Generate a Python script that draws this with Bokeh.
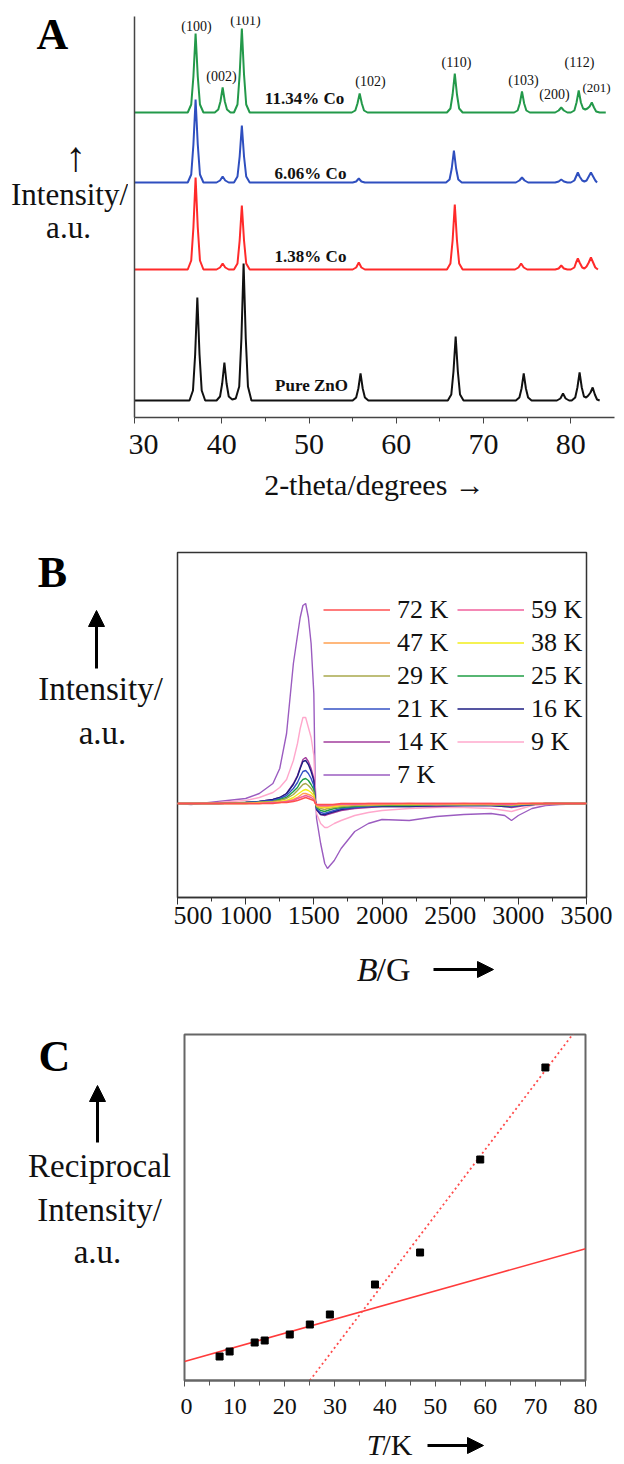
from bokeh.plotting import figure
from bokeh.layouts import row
from bokeh.models import Range1d, Label, Arrow, NormalHead, Legend, LegendItem, FixedTicker
from bokeh.embed import file_html
from bokeh.resources import INLINE
import numpy as np

SERIF = "Liberation Serif"
W = 624
BASE_SHIFT = 0.37  # measured offset of the rendered alphabetic baseline, in em

# ---------------- Panel A : XRD patterns ----------------
a_ticks = [30, 40, 50, 60, 70, 80]
a_minor = [35, 45, 55, 65, 75]

pure_x = [30, 36.3, 36.7, 36.95, 37.2, 37.45, 37.7, 38.1, 39.4, 39.8, 40.05, 40.3, 40.55, 40.8, 41.2,
          41.6, 42.0, 42.25, 42.5, 42.75, 43.0, 43.4, 55.0, 55.4, 55.65, 55.9, 56.15, 56.4, 56.8,
          65.9, 66.3, 66.55, 66.8, 67.05, 67.3, 67.7, 73.7, 74.1, 74.35, 74.6, 74.85, 75.1, 75.5,
          78.4, 78.8, 79.1, 79.4, 79.8, 80.1, 80.5, 80.75, 81.0, 81.25, 81.5, 81.75, 82.0, 82.25,
          82.5, 82.75, 83.0, 83.3]
pure_y = [0, 0, 10, 46, 103, 46, 10, 0, 0, 4, 17, 38, 17, 4, 1,
          2, 14, 62, 137, 62, 14, 0, 0, 3, 12, 27, 12, 3, 0,
          0, 6, 29, 64, 29, 6, 0, 0, 3, 12, 27, 12, 3, 0,
          0, 2, 7, 2, 0, 0, 3, 13, 28, 13, 4, 3, 5, 8,
          13, 6, 1, 0]

co138_x = [30, 36.1, 36.5, 36.75, 37.0, 37.25, 37.5, 37.9, 39.4, 39.8, 40.1, 40.4, 40.8,
           41.4, 41.8, 42.05, 42.3, 42.55, 42.8, 43.2, 55.0, 55.4, 55.7, 56.0, 56.4,
           65.8, 66.2, 66.45, 66.7, 66.95, 67.2, 67.6, 73.6, 74.0, 74.3, 74.6, 75.0,
           78.2, 78.6, 78.9, 79.2, 79.6, 80.0, 80.4, 80.6, 80.8, 81.0, 81.3, 81.55,
           81.8, 82.05, 82.3, 82.55, 82.8, 83.1]
co138_y = [0, 0, 9, 42, 92, 42, 9, 0, 0, 2, 6, 2, 0,
           0, 6, 29, 64, 29, 6, 0, 0, 2, 7, 2, 0,
           0, 6, 29, 65, 29, 6, 0, 0, 2, 6, 2, 0,
           0, 1, 4, 1, 0, 0, 2, 7, 11, 7, 2, 1,
           3, 7, 12, 7, 2, 0]

co606_x = [30, 36.1, 36.5, 36.75, 37.0, 37.25, 37.5, 37.9, 39.4, 39.8, 40.1, 40.4, 40.8,
           41.4, 41.8, 42.05, 42.3, 42.55, 42.8, 43.2, 55.0, 55.4, 55.7, 56.0, 56.4,
           65.7, 66.1, 66.35, 66.6, 66.85, 67.1, 67.5, 73.7, 74.1, 74.4, 74.7, 75.1,
           78.2, 78.6, 78.9, 79.2, 79.6, 80.0, 80.4, 80.6, 80.8, 81.0, 81.3, 81.55,
           81.8, 82.05, 82.3, 82.55, 82.8, 83.0]
co606_y = [0, 0, 8, 38, 83, 38, 8, 0, 0, 2, 6, 2, 0,
           0, 6, 26, 57, 26, 6, 0, 0, 1, 4, 1, 0,
           0, 3, 14, 32, 14, 3, 0, 0, 2, 5, 2, 0,
           0, 1, 3, 1, 0, 0, 2, 6, 10, 6, 2, 1,
           2, 6, 10, 6, 2, 0]

co1134_x = [30, 36.1, 36.5, 36.75, 37.0, 37.25, 37.5, 37.9, 39.2, 39.6, 39.85, 40.1, 40.35, 40.6, 41.0,
            41.4, 41.8, 42.05, 42.3, 42.55, 42.8, 43.2, 54.9, 55.3, 55.55, 55.8, 56.05, 56.3, 56.7,
            65.8, 66.2, 66.45, 66.7, 66.95, 67.2, 67.6, 73.5, 73.9, 74.15, 74.4, 74.65, 74.9, 75.3,
            78.2, 78.6, 78.9, 79.2, 79.6, 80.0, 80.4, 80.65, 80.9, 81.15, 81.4, 81.65,
            81.9, 82.15, 82.4, 82.65, 82.9, 83.3, 84.0]
co1134_y = [0, 0, 8, 36, 79, 36, 8, 0, 0, 3, 11, 25, 11, 3, 0,
            0, 8, 38, 84, 38, 8, 0, 0, 2, 9, 19, 9, 2, 0,
            0, 4, 18, 39, 18, 4, 0, 0, 2, 9, 21, 9, 2, 0,
            0, 2, 5, 2, 0, 0, 2, 10, 22, 10, 4, 3,
            4, 6, 10, 5, 1, 0, 0]

sample_names = ["Pure ZnO", "1.38% Co", "6.06% Co", "11.34% Co"]
hkl_labels = ["(100)", "(002)", "(101)", "(102)", "(110)", "(103)", "(200)", "(112)", "(201)"]

# ---------------- Panel B : EPR spectra ----------------
b_ticks = [500, 1000, 1500, 2000, 2500, 3000, 3500]
b_minor = [750, 1250, 1750, 2250, 2750, 3250]
field_G = [500, 600, 800, 1000, 1100, 1200, 1250, 1300, 1350, 1380, 1400, 1420, 1440, 1460, 1480,
           1500, 1510, 1520, 1550, 1580, 1600, 1650, 1700, 1800, 1900, 2000, 2200, 2400, 2600,
           2800, 2900, 2950, 3000, 3100, 3200, 3300, 3500]
epr_temps = ["72 K", "59 K", "47 K", "38 K", "29 K", "25 K", "21 K", "16 K", "14 K", "9 K", "7 K"]
epr_72 = [0, 0, 0, 0, 0, 0, 1, 1, 2, 3, 4, 5, 6, 5, 4, 3, 0, -1, -1, -1, -1, -1, 0, 0, 0, 0, 0, 0, 0, 0, 0, 0, 0, 0, 0, 0, 0]
epr_59 = [0, 0, 0, 0, 0, 1, 1, 2, 3, 5, 6, 7, 8, 7, 6, 4, 1, -1, -2, -2, -2, -1, -1, -1, 0, 0, 0, 0, 0, 0, -1, -1, 0, 0, 0, 0, 0]
epr_47 = [0, 0, 0, 0, 0, 1, 1, 2, 4, 6, 8, 10, 10, 9, 8, 6, 1, -2, -3, -3, -3, -2, -1, -1, -1, -1, 0, -1, 0, -1, -1, -1, 0, 0, 0, 0, 0]
epr_38 = [0, 0, 0, 0, 1, 1, 2, 3, 6, 9, 11, 13, 14, 13, 11, 8, 1, -2, -4, -4, -4, -3, -2, -1, -1, -1, -1, -1, -1, -1, -1, -1, -1, 0, 0, 0, 0]
epr_29 = [0, 0, 0, 0, 1, 2, 3, 5, 9, 13, 16, 19, 20, 18, 15, 11, 2, -3, -5, -6, -5, -4, -3, -2, -2, -1, -1, -1, -1, -1, -1, -2, -1, 0, 0, 0, 0]
epr_25 = [0, 0, 0, 1, 1, 2, 4, 6, 12, 16, 21, 24, 25, 23, 19, 14, 2, -4, -7, -8, -7, -5, -4, -3, -2, -2, -2, -1, -1, -1, -2, -2, -1, -1, 0, 0, 0]
epr_21 = [0, 0, 0, 1, 2, 3, 5, 8, 15, 21, 27, 32, 33, 30, 25, 18, 3, -5, -9, -10, -9, -7, -5, -4, -3, -2, -2, -2, -2, -2, -2, -3, -2, -1, 0, 0, 0]
epr_16 = [0, 0, 0, 1, 2, 4, 6, 10, 19, 27, 35, 42, 43, 39, 32, 23, 4, -6, -11, -11, -10, -8, -6, -4, -3, -3, -3, -2, -2, -2, -3, -3, -2, -1, 0, 0, 0]
epr_14 = [0, 0, 0, 1, 2, 4, 6, 10, 20, 28, 36, 44, 46, 42, 35, 25, 5, -6, -11, -12, -11, -9, -7, -5, -4, -3, -3, -3, -2, -2, -3, -4, -3, -1, 0, 0, 0]
epr_9 = [0, 0, 1, 3, 6, 11, 16, 24, 43, 60, 75, 86, 86, 76, 66, 48, 12, -10, -20, -24, -24, -20, -17, -12, -9, -7, -5, -4, -4, -5, -7, -8, -6, -2, -1, 0, 0]
epr_7 = [0, -1, 2, 5, 10, 20, 35, 70, 140, 168, 186, 198, 200, 186, 160, 110, 20, -15, -40, -60, -65, -57, -45, -28, -20, -16, -17, -13, -11, -10, -12, -17, -12, -5, -2, -1, 0]

# ---------------- Panel C : reciprocal intensity ----------------
c_ticks = [0, 10, 20, 30, 40, 50, 60, 70, 80]
c_minor = [5, 15, 25, 35, 45, 55, 65, 75]
temp_K = [7, 9, 14, 16, 21, 25, 29, 38, 47, 59, 72]
recip_I = [24, 29, 38, 40, 46, 56, 66, 96, 128, 221, 313]
low_fit_intercept = 19.0
low_fit_slope = 1.41
high_fit_T0 = 25.0
high_fit_slope = 6.6

TXT = "#111111"


def base_fig(**kw):
    p = figure(output_backend="svg", toolbar_location=None, **kw)
    p.grid.visible = False
    return p


def text_fig(width, height, x0, top_border, bottom_border, frame_top_page, frame_bottom_page):
    """Blank figure whose data coordinates are page pixels (used for free text)."""
    p = base_fig(width=width, height=height, x_range=Range1d(x0, x0 + width),
                 y_range=Range1d(frame_bottom_page, frame_top_page),
                 x_axis_location=None, y_axis_location=None,
                 min_border_left=0, min_border_right=0,
                 min_border_top=top_border, min_border_bottom=bottom_border)
    p.outline_line_color = None
    return p


def txt(p, x, y, text, size, style="normal", align="center", color=TXT):
    p.add_layout(Label(x=x, y=y, text=text, text_font=SERIF, text_font_size=f"{size}px",
                       text_font_style=style, text_align=align, text_baseline="alphabetic",
                       text_color=color))


def ptxt(p, px, py, text, size, **kw):
    """Text whose glyph baseline should land at page y = py (page-pixel figures)."""
    txt(p, px, py - BASE_SHIFT * size, text, size, **kw)


def arrow(p, x0, y0, x1, y1, lw=3, head=16):
    p.add_layout(Arrow(x_start=x0, y_start=y0, x_end=x1, y_end=y1, line_width=lw, line_color="black",
                       end=NormalHead(size=head, fill_color="black", line_color="black", line_width=1)))


# ======== panel A (page y 0..522) ========
HA = 522
A_L, A_T, A_B, A_R = 134, 16, 417, 614
A_side_w = 128
pa = base_fig(width=W - A_side_w, height=HA, x_range=Range1d(30, 85), y_range=Range1d(0, A_B - A_T),
              min_border_left=A_L - A_side_w, min_border_right=W - A_R,
              min_border_top=A_T, min_border_bottom=HA - A_B)
pa.outline_line_color = None
pa.yaxis.ticker = FixedTicker(ticks=[])
pa.yaxis.major_tick_out = 0
pa.yaxis.minor_tick_out = 0
pa.yaxis.axis_line_color = "#444444"
pa.yaxis.axis_line_width = 1.5
pa.xaxis.ticker = FixedTicker(ticks=a_ticks, minor_ticks=a_minor)
xa = pa.xaxis[0]
xa.axis_line_color = "#444444"
xa.axis_line_width = 1.5
xa.major_tick_line_color = "#444444"
xa.minor_tick_line_color = "#444444"
xa.major_tick_out = 6
xa.major_tick_in = 0
xa.minor_tick_out = 4
xa.minor_tick_in = 0
xa.major_label_text_font = SERIF
xa.major_label_text_font_size = "30px"
xa.major_label_text_color = TXT
xa.major_label_standoff = 11
xa.axis_label = "2-theta/degrees \u2192"
xa.axis_label_text_font = SERIF
xa.axis_label_text_font_size = "30px"
xa.axis_label_text_font_style = "normal"
xa.axis_label_text_color = TXT
xa.axis_label_standoff = 11

offsets = [17, 148, 235, 305]  # vertical stacking of the patterns (layout only)
series = [(pure_x, pure_y, "#111111"), (co138_x, co138_y, "#ff2a2a"),
          (co606_x, co606_y, "#2f4fbf"), (co1134_x, co1134_y, "#23994a")]
for (xs, ys, col), off in zip(series, offsets):
    pa.line(xs, np.array(ys) + off, line_color=col, line_width=2)


def a_txt(px, py, text, size, **kw):  # page pixel -> panel A data
    py = py - BASE_SHIFT * size
    txt(pa, 30 + (px - A_L) * 55 / (A_R - A_L), A_B - py, text, size, **kw)


for name, (px, py) in zip(sample_names, [(311, 391), (310, 262), (310, 179), (304, 104)]):
    a_txt(px, py, name, 17, style="bold")
hkl_pos = [(196, 31), (221, 81), (245, 25), (370, 86), (456, 67), (523, 85), (554, 99), (579, 67), (596, 92)]
for t, (px, py) in zip(hkl_labels, hkl_pos):
    a_txt(px, py, t, 14 if t != "(201)" else 13)

sa = text_fig(A_side_w, HA, 0, A_T, HA - A_B, A_T, A_B)
ptxt(sa, 52, 50, "A", 44, style="bold", color="black")
ptxt(sa, 75, 172, "\u2191", 42)
ptxt(sa, 69, 205, "Intensity/", 31)
ptxt(sa, 68, 238, "a.u.", 31)
rowA = row(sa, pa)

# ======== panel B (page y 522..950, caption 950..1000) ========
HB = 428
B_top = 522
B_L, B_T, B_B, B_R = 177, 552, 897, 586
B_side_w = 173
pb = base_fig(width=W - B_side_w, height=HB, x_range=Range1d(500, 3500), y_range=Range1d(-94, 251),
              y_axis_location=None,
              min_border_left=B_L - B_side_w, min_border_right=W - B_R,
              min_border_top=B_T - B_top, min_border_bottom=HB - (B_B - B_top))
pb.outline_line_color = "#333333"
pb.outline_line_width = 1.5
pb.xaxis.ticker = FixedTicker(ticks=b_ticks, minor_ticks=b_minor)
xb = pb.xaxis[0]
xb.axis_line_color = "#333333"
xb.axis_line_width = 1.5
xb.major_tick_out = 7
xb.major_tick_in = 0
xb.minor_tick_out = 4
xb.minor_tick_in = 0
xb.major_tick_line_color = "#333333"
xb.minor_tick_line_color = "#333333"
xb.major_label_text_font = SERIF
xb.major_label_text_font_size = "26px"
xb.major_label_text_color = TXT
xb.major_label_standoff = 2

epr_series = [epr_72, epr_59, epr_47, epr_38, epr_29, epr_25, epr_21, epr_16, epr_14, epr_9, epr_7]
epr_colors = ["#ff5050", "#f0609c", "#ffa050", "#f2ee1a", "#a8a84c", "#1f9e45",
              "#3552c4", "#1c1c82", "#a23c9c", "#ffa8cc", "#9b5cc0"]
renderers = {}
for lbl, ys, col in reversed(list(zip(epr_temps, epr_series, epr_colors))):
    renderers[lbl] = pb.line(field_G, ys, line_color=col, line_width=1.4)
items = [LegendItem(label=lbl, renderers=[renderers[lbl]]) for lbl in epr_temps]
leg = Legend(items=items, location=(146, 106), orientation="horizontal", ncols=2,
             glyph_width=67, glyph_height=33, label_height=33, label_width=60, label_standoff=7,
             spacing=0, padding=0, margin=0, border_line_color=None, background_fill_alpha=0,
             label_text_font=SERIF, label_text_font_size="26px", label_text_color=TXT)
pb.add_layout(leg)

sb = text_fig(B_side_w, HB, 0, B_T - B_top, HB - (B_B - B_top), B_T, B_B)
ptxt(sb, 52, 588, "B", 44, style="bold", color="black")
arrow(sb, 96, 668, 96, 610)
ptxt(sb, 100, 701, "Intensity/", 33)
ptxt(sb, 102, 745, "a.u.", 33)
rowB = row(sb, pb)

capB = text_fig(W, 50, 0, 0, 0, 950, 1000)
ptxt(capB, 377, 982, "B", 34, style="italic", align="right")
ptxt(capB, 376, 982, "/G", 34, align="left")
arrow(capB, 433, 969, 493, 969)

# ======== panel C (page y 1000..1428, caption 1428..1464) ========
HC = 428
C_top = 1000
C_L, C_T, C_B, C_R = 184, 1034, 1380, 585
C_side_w = 180
pc = base_fig(width=W - C_side_w, height=HC, x_range=Range1d(0, 80), y_range=Range1d(0, 346),
              y_axis_location=None,
              min_border_left=C_L - C_side_w, min_border_right=W - C_R,
              min_border_top=C_T - C_top, min_border_bottom=HC - (C_B - C_top))
pc.outline_line_color = "#666666"
pc.outline_line_width = 2
pc.xaxis.ticker = FixedTicker(ticks=c_ticks, minor_ticks=c_minor)
xc = pc.xaxis[0]
xc.axis_line_color = "#666666"
xc.axis_line_width = 2
xc.major_tick_out = 6
xc.major_tick_in = 0
xc.minor_tick_out = 5
xc.minor_tick_in = 0
xc.major_tick_line_color = "#555555"
xc.minor_tick_line_color = "#555555"
xc.major_label_text_font = SERIF
xc.major_label_text_font_size = "24px"
xc.major_label_text_color = TXT
xc.major_label_standoff = 12

fx = np.array([0, 80])
pc.line(fx, low_fit_intercept + low_fit_slope * fx, line_color="#ff3b3b", line_width=1.6)
hx = np.array([high_fit_T0, 80])
pc.line(hx, high_fit_slope * (hx - high_fit_T0), line_color="#ff4a4a", line_width=1.8, line_dash="2 3")
pc.scatter(temp_K, recip_I, marker="square", size=7, color="black")

sc = text_fig(C_side_w, HC, 0, C_T - C_top, HC - (C_B - C_top), C_T, C_B)
ptxt(sc, 54, 1072, "C", 44, style="bold", color="black")
arrow(sc, 97, 1142, 97, 1085)
ptxt(sc, 99, 1178, "Reciprocal", 33)
ptxt(sc, 99, 1222, "Intensity/", 33)
ptxt(sc, 97, 1264, "a.u.", 33)
rowC = row(sc, pc)

capC = text_fig(W, 36, 0, 0, 0, 1428, 1464)
ptxt(capC, 383, 1455, "T", 30, style="italic", align="right")
ptxt(capC, 382, 1455, "/K", 30, align="left")
arrow(capC, 427, 1445, 483, 1445)

open("out.html", "w").write(file_html([rowA, rowB, capB, rowC, capC], INLINE))
